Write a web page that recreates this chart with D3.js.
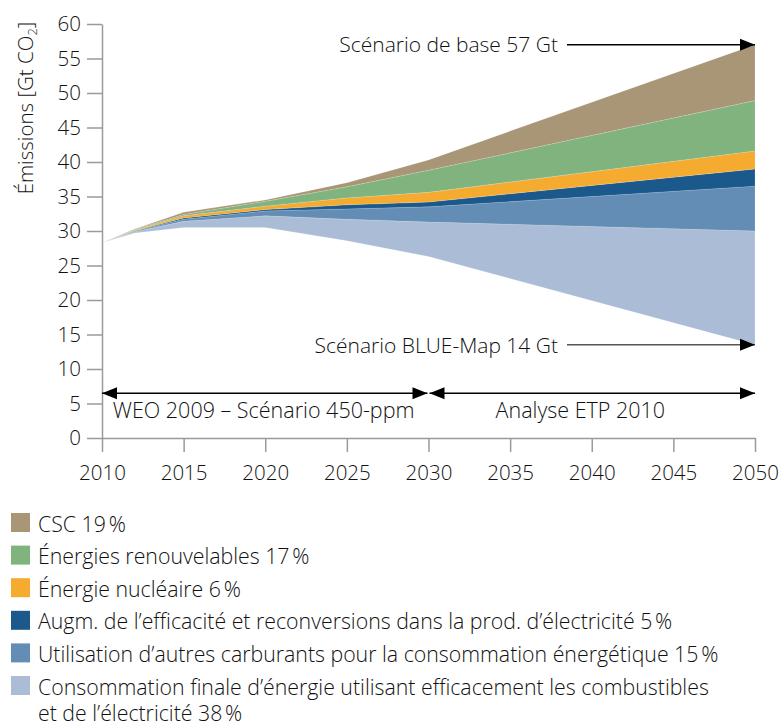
<!DOCTYPE html>
<html>
<head>
<meta charset="utf-8">
<script src="https://cdn.jsdelivr.net/npm/d3@7"></script>
<style>
  body { margin: 0; background: #fff; }
  svg text { font-family: "Open Sans", "Noto Sans", sans-serif; font-weight: 300; fill: #111; }
</style>
</head>
<body>
<div id="chart"></div>
<script>
// years
var years = [2010, 2012, 2015, 2020, 2025, 2030, 2050];

// BLUE Map emissions (bottom of the stack), Gt CO2
var blueMap = [28.3, 29.7, 30.5, 30.5, 28.6, 26.3, 13.5];

// wedge thicknesses, Gt CO2 (bottom to top)
var endUse     = [0, 0.2, 0.9, 1.7, 3.1, 5.0, 16.5];
var fuelSwitch = [0, 0.1, 0.3, 0.7, 1.5, 2.2, 6.5];
var powerEff   = [0, 0.05, 0.2, 0.2, 0.6, 0.7, 2.5];
var nuclear    = [0, 0.1, 0.3, 0.5, 1.0, 1.4, 2.6];
var renewables = [0, 0.1, 0.2, 0.7, 1.6, 3.2, 7.3];
var ccs        = [0, 0.05, 0.3, 0.2, 0.6, 1.5, 8.1];

var keys = ["blueMap", "endUse", "fuelSwitch", "powerEff", "nuclear", "renewables", "ccs"];
var colors = {
    endUse: "#abbdd6",
    fuelSwitch: "#638db4",
    powerEff: "#1b588c",
    nuclear: "#f5aa30",
    renewables: "#81b37e",
    ccs: "#a89676"
};

// legend, top to bottom
var legendKeys = ["ccs", "renewables", "nuclear", "powerEff", "fuelSwitch", "endUse"];
var legendLabels = [
    ["CSC 19\u202f%"],
    ["Énergies renouvelables 17\u202f%"],
    ["Énergie nucléaire 6\u202f%"],
    ["Augm. de l\u2019efficacité et reconversions dans la prod. d\u2019électricité 5\u202f%"],
    ["Utilisation d\u2019autres carburants pour la consommation énergétique 15\u202f%"],
    ["Consommation finale d\u2019énergie utilisant efficacement les combustibles", "et de l\u2019électricité 38\u202f%"]
];

var yTicks = d3.range(0, 61, 5);
var xTicks = d3.range(2010, 2051, 5);

var table = years.map(function(yr, i) {
    return {
        year: yr, blueMap: blueMap[i], endUse: endUse[i], fuelSwitch: fuelSwitch[i],
        powerEff: powerEff[i], nuclear: nuclear[i], renewables: renewables[i], ccs: ccs[i]
    };
});

var margin = {top: 24, right: 27, bottom: 289, left: 102};
var width = 782 - margin.left - margin.right;
var height = 727 - margin.top - margin.bottom;

var svg = d3.select("#chart")
    .append("svg")
    .attr("width", 782)
    .attr("height", 727);

var g = svg.append("g")
    .attr("transform", "translate(" + margin.left + "," + margin.top + ")");

var xScale = d3.scaleLinear().domain([2010, 2050]).range([0, width]);
var yScale = d3.scaleLinear().domain([0, 60]).range([height, 0]);

var series = d3.stack().keys(keys)(table);

var area = d3.area()
    .x(function(d) { return xScale(d.data.year) })
    .y0(function(d) { return yScale(d[0]) })
    .y1(function(d) { return yScale(d[1]) });

g.selectAll(".layer")
    .data(series.filter(function(s) { return s.key !== "blueMap" }))
    .enter().append("path")
    .attr("class", "layer")
    .attr("fill", function(s) { return colors[s.key] })
    .attr("stroke", "rgba(255,255,255,0.3)")
    .attr("stroke-width", 0.5)
    .attr("d", area);

// axes
var yAxis = g.append("g")
    .call(d3.axisLeft(yScale).tickValues(yTicks).tickSize(15).tickSizeOuter(0).tickPadding(6));
var xAxis = g.append("g")
    .attr("transform", "translate(0," + height + ")")
    .call(d3.axisBottom(xScale).tickValues(xTicks).tickFormat(d3.format("d"))
        .tickSize(14).tickSizeOuter(0).tickPadding(13));

[yAxis, xAxis].forEach(function(ax) {
    ax.selectAll("path, line").attr("stroke", "#9a9a9a").attr("stroke-width", 1.5);
    ax.selectAll("text").style("font-size", "20.5px").attr("fill", "#111");
});

var yTitle = g.append("text")
    .attr("transform", "rotate(-90)")
    .attr("x", -84)
    .attr("y", -69)
    .style("text-anchor", "middle")
    .style("font-size", "20.5px");
yTitle.append("tspan").text("Émissions [Gt CO");
yTitle.append("tspan").attr("dy", 4).style("font-size", "13px").text("2");
yTitle.append("tspan").attr("dy", -4).text("]");

// arrows
function arrowHead(x, y, dir) {
    g.append("path")
        .attr("d", "M" + x + "," + y + "l" + (-15 * dir) + ",-6l0,12z")
        .attr("fill", "#000");
}

function arrowLine(x1, x2, y, color, both) {
    g.append("line")
        .attr("x1", x1).attr("x2", x2).attr("y1", y).attr("y2", y)
        .attr("stroke", color).attr("stroke-width", 1.5);
    arrowHead(x2, y, 1);
    if (both) arrowHead(x1, y, -1);
}

// scenario labels
var x2050 = xScale(2050);
arrowLine(465, x2050, yScale(57), "#000", false);
g.append("text")
    .attr("x", 456).attr("y", yScale(57) + 7)
    .style("text-anchor", "end").style("font-size", "21px")
    .text("Scénario de base 57 Gt");

arrowLine(465, x2050, yScale(13.5), "#555", false);
g.append("text")
    .attr("x", 456).attr("y", yScale(13.5) + 8)
    .style("text-anchor", "end").style("font-size", "21px")
    .text("Scénario BLUE-Map 14 Gt");

// period arrows
var periodY = yScale(6.5);
arrowLine(xScale(2010), xScale(2030) - 1, periodY, "#000", true);
arrowLine(xScale(2030) + 1, xScale(2050), periodY, "#000", true);
g.append("text")
    .attr("x", xScale(2019.9)).attr("y", periodY + 25)
    .style("text-anchor", "middle").style("font-size", "21.5px")
    .text("WEO 2009 \u2013 Scénario 450-ppm");
g.append("text")
    .attr("x", xScale(2039.3)).attr("y", periodY + 25)
    .style("text-anchor", "middle").style("font-size", "21.5px")
    .text("Analyse ETP 2010");

// legend
var legend = svg.selectAll(".legend")
    .data(legendKeys)
    .enter().append("g")
    .attr("class", "legend")
    .attr("transform", function(d, i) { return "translate(11," + (513 + i * 32.6) + ")" });

legend.append("rect")
    .attr("width", 19)
    .attr("height", 19)
    .attr("fill", function(d) { return colors[d] });

legend.each(function(d, i) {
    var t = d3.select(this).append("text")
        .attr("x", 27)
        .attr("y", 18.5)
        .style("font-size", "21.3px");
    legendLabels[i].forEach(function(line, j) {
        t.append("tspan").attr("x", 27).attr("dy", j === 0 ? 0 : 26).text(line);
    });
});
</script>
</body>
</html>
